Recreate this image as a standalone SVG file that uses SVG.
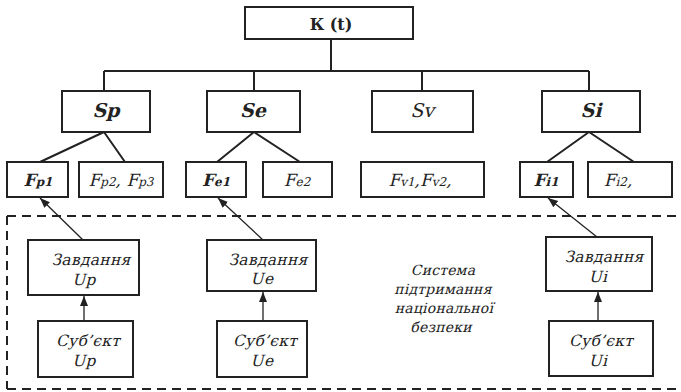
<svg xmlns="http://www.w3.org/2000/svg" width="681" height="392" viewBox="0 0 681 392">
<style>
.box{fill:#fff;stroke:#222;stroke-width:2}
.ln{fill:none;stroke:#222;stroke-width:2}
.ar{fill:none;stroke:#222;stroke-width:1.3}
.t{font-family:"DejaVu Serif","Liberation Serif",serif;fill:#222;text-anchor:middle}
.b{font-weight:bold}
.s{font-size:19px}
.f{font-size:17px}
.sub{font-size:12px}
.z{font-size:15.5px;letter-spacing:0.3px}
.c{font-size:14px;letter-spacing:0.2px}
.dash{fill:none;stroke:#222;stroke-width:2;stroke-dasharray:9 6}
</style>
<defs>
<marker id="ah" markerUnits="userSpaceOnUse" markerWidth="10" markerHeight="10" viewBox="0 0 10 10" refX="10" refY="5" orient="auto">
<path d="M0,1 L10,5 L0,9 Z" fill="#222"/>
</marker>
</defs>
<rect width="681" height="392" fill="#fff"/>
<g id="frame">
<path class="dash" d="M7,216 H681 M7,216 V389 M7,389 H681"/>
</g>
<g id="connectors">
<path class="ln" d="M331,39 V71 M104,71 H589 M104,71 V91 M254,71 V91 M422,71 V91 M589,71 V91"/>
<path class="ln" d="M104,132 L40,162 M104,132 L125,162 M254,132 L217,162 M254,132 L300,162 M589,132 L547,162 M589,132 L634,162"/>
<path class="ar" marker-end="url(#ah)" d="M83,240 L40,198"/>
<path class="ar" marker-end="url(#ah)" d="M263,240 L218,198"/>
<path class="ar" marker-end="url(#ah)" d="M597,237 L548,198"/>
<path class="ar" marker-end="url(#ah)" d="M84,321 V296"/>
<path class="ar" marker-end="url(#ah)" d="M263,321 V292"/>
<path class="ar" marker-end="url(#ah)" d="M598,321 V292"/>
</g>
<g id="K"><rect class="box" x="245" y="7" width="168" height="32"/><text class="t b" x="331" y="30" style="font-size:16px">К (t)</text></g>
<g id="Sp"><rect class="box" x="62" y="91" width="88" height="41"/><text class="t b s" transform="translate(106,117) skewX(-14)">Sp</text></g>
<g id="Se"><rect class="box" x="207" y="91" width="93" height="41"/><text class="t b s" transform="translate(253,117) skewX(-14)">Se</text></g>
<g id="Sv"><rect class="box" x="372" y="91" width="101" height="41"/><text class="t s" transform="translate(422,117) skewX(-14)">Sv</text></g>
<g id="Si"><rect class="box" x="542" y="91" width="98" height="41"/><text class="t b s" transform="translate(591,117) skewX(-14)">Si</text></g>
<g id="Fp1"><rect class="box" x="7" y="162" width="61" height="35"/><text class="t b f" transform="translate(38,186) skewX(-14)">F<tspan class="sub">p1</tspan></text></g>
<g id="Fp23"><rect class="box" x="79" y="162" width="84" height="35"/><text class="t f" transform="translate(121,186) skewX(-14)">F<tspan class="sub">p2</tspan>, F<tspan class="sub">p3</tspan></text></g>
<g id="Fe1"><rect class="box" x="186" y="162" width="60" height="35"/><text class="t b f" transform="translate(216,186) skewX(-14)">F<tspan class="sub">e1</tspan></text></g>
<g id="Fe2"><rect class="box" x="263" y="162" width="69" height="35"/><text class="t f" transform="translate(297,186) skewX(-14)">F<tspan class="sub">e2</tspan></text></g>
<g id="Fv"><rect class="box" x="361" y="162" width="123" height="35"/><text class="t f" transform="translate(420,186) skewX(-14)">F<tspan class="sub">v1</tspan>,F<tspan class="sub">v2</tspan>,</text></g>
<g id="Fi1"><rect class="box" x="520" y="162" width="53" height="35"/><text class="t b f" transform="translate(546,186) skewX(-14)">F<tspan class="sub">i1</tspan></text></g>
<g id="Fi2"><rect class="box" x="588" y="162" width="84" height="35"/><text class="t f" transform="translate(618,186) skewX(-14)">F<tspan class="sub">i2</tspan>,</text></g>
<g id="Zp"><rect class="box" x="28" y="240" width="111" height="55"/><text class="t z" transform="translate(91,265) skewX(-14)">Завдання</text><text class="t z" transform="translate(84,285) skewX(-14)">Up</text></g>
<g id="Ze"><rect class="box" x="207" y="240" width="109" height="51"/><text class="t z" transform="translate(268,265) skewX(-14)">Завдання</text><text class="t z" transform="translate(262,284) skewX(-14)">Ue</text></g>
<g id="Zi"><rect class="box" x="546" y="237" width="106" height="54"/><text class="t z" transform="translate(604,262) skewX(-14)">Завдання</text><text class="t z" transform="translate(598,282) skewX(-14)">Ui</text></g>
<g id="Cp"><rect class="box" x="38" y="321" width="95" height="56"/><text class="t z" transform="translate(88,346) skewX(-14)">Суб’єкт</text><text class="t z" transform="translate(84,366) skewX(-14)">Up</text></g>
<g id="Ce"><rect class="box" x="217" y="321" width="90" height="56"/><text class="t z" transform="translate(265,346) skewX(-14)">Суб’єкт</text><text class="t z" transform="translate(262,366) skewX(-14)">Ue</text></g>
<g id="Ci"><rect class="box" x="549" y="321" width="104" height="55"/><text class="t z" transform="translate(601,346) skewX(-14)">Суб’єкт</text><text class="t z" transform="translate(598,366) skewX(-14)">Ui</text></g>
<g id="system"><text class="t c" transform="translate(443,275) skewX(-14)">Система</text><text class="t c" transform="translate(443,294) skewX(-14)">підтримання</text><text class="t c" transform="translate(444,313) skewX(-14)">національної</text><text class="t c" transform="translate(441,332) skewX(-14)">безпеки</text></g>
</svg>
